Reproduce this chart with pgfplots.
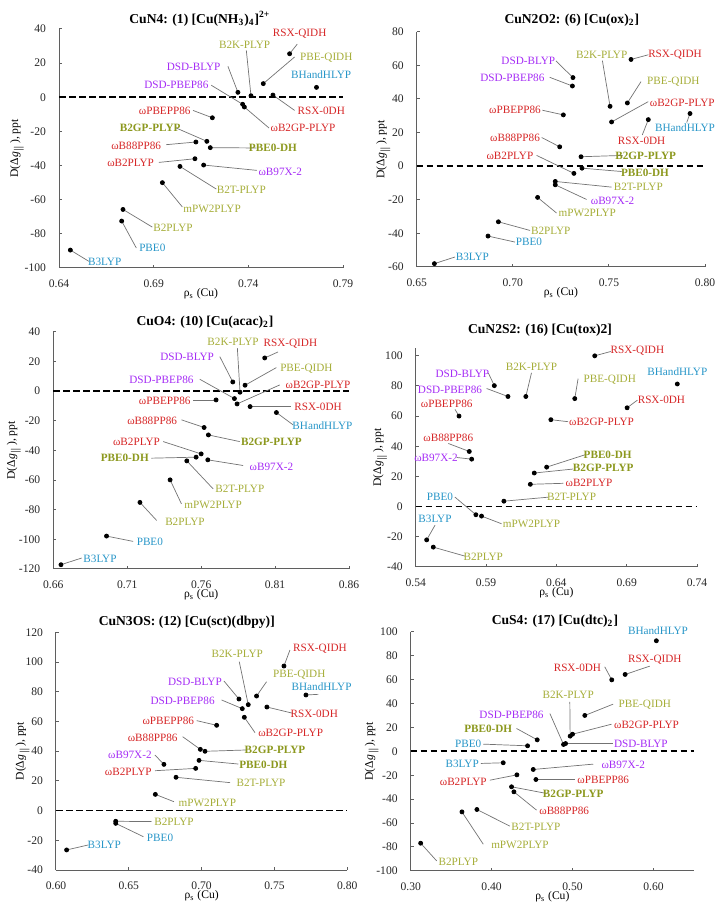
\documentclass[border=0pt]{standalone}
\usepackage{pgfplots}
\pgfplotsset{compat=1.18}
\usepackage{fontspec}
\setmainfont{Liberation Serif}
\definecolor{cred}{RGB}{214,39,40}
\definecolor{colive}{RGB}{166,174,58}
\definecolor{colb}{RGB}{140,152,30}
\definecolor{cpur}{RGB}{165,45,245}
\definecolor{cblue}{RGB}{40,150,200}
\definecolor{axgray}{RGB}{95,95,95}
\newcommand\Rd[1]{\textcolor{cred}{#1}}
\newcommand\Ol[1]{\textcolor{colive}{#1}}
\newcommand\Ob[1]{\textcolor{colb}{\bfseries #1}}
\newcommand\Pu[1]{\textcolor{cpur}{#1}}
\newcommand\Bl[1]{\textcolor{cblue}{#1}}
\tikzset{ld/.style={draw=black!55,line width=0.35pt},
 lab/.style={font=\fontsize{5.6}{6}\selectfont,inner sep=0pt,anchor=center}}
\newcommand\lbl[9]{%
 \draw[ld] (axis cs:#1,#2) -- ++({(#5-#3)/6*1pt},{(#4-#6)/6*1pt});%
 \path (axis cs:#1,#2) ++({(#7-#3)/6*1pt},{(#4-#8)/6*1pt}) node[lab]{#9};}
\newcommand\ttl[3]{\node[anchor=base,font=\fontsize{6.8}{8}\selectfont\bfseries] at ([yshift=#2pt]rel axis cs:#1,1) {#3};}
\newcommand\axlab[1]{%
 \node[font=\fontsize{5.8}{7}\selectfont,rotate=90,anchor=center] at ([xshift=-#1pt]rel axis cs:0,0.5) {D(Δ\textit{g}\textsubscript{$\parallel$}), ppt};%
 \node[font=\fontsize{5.8}{7}\selectfont,anchor=center] at ([yshift=-13pt]rel axis cs:0.5,0) {ρ\textsubscript{s} (Cu)};}
\pgfplotsset{panel/.style={scale only axis, anchor=south west,
 axis x line=bottom, axis y line=left,
 axis line style={-,draw=axgray,line width=0.5pt},
 every tick/.style={draw=axgray,line width=0.5pt},
 tick align=inside, major tick length=1.5pt,
 tick label style={font=\fontsize{5.8}{6}\selectfont,text=black!85},
 yticklabel style={xshift=-3pt}, xticklabel style={yshift=-2.5pt},
 clip=false}}
\newcommand\zero[2]{\addplot[black,line width=0.9pt,dash pattern=on 3.3pt off 1.7pt] coordinates {(#1,0) (#2,0)};}
\begin{document}
\begin{tikzpicture}
\useasboundingbox (0,0) rectangle (357.5pt,452.5pt);
% ---------------- Panel 1
\begin{axis}[panel, at={(29.5pt,318.5pt)}, width=142pt, height=119.5pt,
 xmin=0.64,xmax=0.79,ymin=-100,ymax=40,
 xtick={0.64,0.69,0.74,0.79}, xticklabels={0.64,0.69,0.74,0.79},
 ytick={-100,-80,-60,-40,-20,0,20,40}, yticklabels={-100,-80,-60,-40,-20,0,20,40}]
\zero{0.64}{0.79}
\lbl{0.7618}{25.5}{870}{162}{893}{133}{900}{103}{\Rd{RSX-QIDH}}
\lbl{0.7414}{0.9}{754}{288}{740}{152}{735}{135}{\Ol{B2K-PLYP}}
\lbl{0.7479}{8.0}{791}{252}{885}{172}{980}{175}{\Ol{PBE-QIDH}}
\lbl{0.776}{5.8}{951}{263}{951}{263}{965}{224}{\Bl{BHandHLYP}}
\lbl{0.7345}{2.9}{715}{278}{685}{200}{582}{202}{\Pu{DSD-BLYP}}
\lbl{0.737}{-4.1}{729}{314}{635}{257}{530}{255}{\Pu{DSD-PBEP86}}
\lbl{0.753}{1.3}{820}{286}{885}{332}{965}{333}{\Rd{RSX-0DH}}
\lbl{0.721}{-12.0}{638}{354}{580}{332}{495}{332}{\Rd{ωPBEPP86}}
\lbl{0.7379}{-5.7}{734}{322}{808}{385}{910}{385}{\Rd{ωB2GP-PLYP}}
\lbl{0.7181}{-25.8}{622}{425}{530}{385}{452}{385}{\Ob{B2GP-PLYP}}
\lbl{0.7123}{-26.2}{589}{427}{500}{435}{410}{437}{\Rd{ωB88PP86}}
\lbl{0.7199}{-29.5}{632}{444}{770}{445}{820}{445}{\Ob{PBE0-DH}}
\lbl{0.7118}{-36.0}{586}{477}{478}{488}{393}{490}{\Rd{ωB2PLYP}}
\lbl{0.7164}{-39.7}{612}{496}{772}{512}{842}{517}{\Pu{ωB97X-2}}
\lbl{0.7039}{-40.5}{541}{500}{650}{568}{725}{570}{\Ol{B2T-PLYP}}
\lbl{0.6946}{-50.0}{488}{549}{548}{622}{637}{627}{\Ol{mPW2PLYP}}
\lbl{0.6738}{-65.7}{370}{629}{458}{682}{520}{685}{\Ol{B2PLYP}}
\lbl{0.6731}{-72.5}{366}{664}{410}{745}{458}{745}{\Bl{PBE0}}
\lbl{0.646}{-89.5}{212}{751}{268}{785}{315}{787}{\Bl{B3LYP}}
\addplot[only marks,mark=*,mark size=1pt,black] coordinates {
(0.7618,25.5) (0.7414,0.9) (0.7479,8.0) (0.776,5.8) (0.7345,2.9) (0.737,-4.1)
(0.753,1.3) (0.721,-12.0) (0.7379,-5.7) (0.7181,-25.8) (0.7123,-26.2) (0.7199,-29.5)
(0.7118,-36.0) (0.7164,-39.7) (0.7039,-40.5) (0.6946,-50.0) (0.6738,-65.7) (0.6731,-72.5) (0.646,-89.5)};
\ttl{0.496}{2.75}{CuN4: (1) [Cu(NH\textsubscript{3})\textsubscript{4}]\textsuperscript{2+}}
\axlab{21}
\end{axis}
% ---------------- Panel 2
\begin{axis}[panel, at={(208.35pt,319pt)}, width=144.15pt, height=117.65pt,
 xmin=0.65,xmax=0.80,ymin=-60,ymax=80,
 xtick={0.65,0.70,0.75,0.80}, xticklabels={0.65,0.70,0.75,0.80},
 ytick={-60,-40,-20,0,20,40,60,80}, yticklabels={-60,-40,-20,0,20,40,60,80}]
\zero{0.65}{0.80}
\lbl{0.7615}{63.5}{828}{176}{880}{162}{960}{163}{\Rd{RSX-QIDH}}
\lbl{0.7313}{52.7}{654}{233}{603}{183}{520}{183}{\Pu{DSD-BLYP}}
\lbl{0.731}{47.7}{652}{258}{584}{232}{472}{234}{\Pu{DSD-PBEP86}}
\lbl{0.7506}{35.6}{765}{319}{742}{182}{740}{165}{\Ol{B2K-PLYP}}
\lbl{0.7596}{37.6}{817}{309}{858}{245}{955}{245}{\Ol{PBE-QIDH}}
\lbl{0.7263}{30.5}{625}{345}{562}{331}{480}{331}{\Rd{ωPBEPP86}}
\lbl{0.7514}{26.3}{770}{366}{880}{305}{982}{308}{\Rd{ωB2GP-PLYP}}
\lbl{0.7705}{27.7}{880}{359}{862}{405}{860}{422}{\Rd{RSX-0DH}}
\lbl{0.7922}{31.3}{1005}{341}{995}{368}{990}{383}{\Bl{BHandHLYP}}
\lbl{0.7244}{11.5}{614}{441}{560}{413}{480}{413}{\Rd{ωB88PP86}}
\lbl{0.7355}{5.6}{678}{471}{803}{467}{872}{467}{\Ob{B2GP-PLYP}}
\lbl{0.7318}{-4.3}{657}{521}{545}{467}{465}{467}{\Rd{ωB2PLYP}}
\lbl{0.736}{-1.2}{681}{505}{800}{515}{870}{518}{\Ob{PBE0-DH}}
\lbl{0.7221}{-9.1}{601}{545}{770}{562}{850}{560}{\Ol{B2T-PLYP}}
\lbl{0.7221}{-11.1}{601}{556}{695}{600}{773}{603}{\Pu{ωB97X-2}}
\lbl{0.7129}{-18.6}{548}{593}{605}{640}{697}{640}{\Ol{mPW2PLYP}}
\lbl{0.6925}{-33.1}{430}{666}{525}{692}{587}{692}{\Ol{B2PLYP}}
\lbl{0.6871}{-41.6}{399}{709}{480}{727}{522}{727}{\Bl{PBE0}}
\lbl{0.6592}{-58.0}{238}{792}{300}{772}{352}{773}{\Bl{B3LYP}}
\addplot[only marks,mark=*,mark size=1pt,black] coordinates {
(0.7615,63.5) (0.7313,52.7) (0.731,47.7) (0.7506,35.6) (0.7596,37.6) (0.7263,30.5)
(0.7514,26.3) (0.7705,27.7) (0.7922,31.3) (0.7244,11.5) (0.7355,5.6) (0.7318,-4.3)
(0.736,-1.2) (0.7221,-9.1) (0.7221,-11.1) (0.7129,-18.6) (0.6925,-33.1) (0.6871,-41.6) (0.6592,-58.0)};
\ttl{0.538}{4}{CuN2O2: (6) [Cu(ox)\textsubscript{2}]}
\axlab{16.7}
\end{axis}
% ---------------- Panel 3
\begin{axis}[panel, at={(26.65pt,168pt)}, width=147.85pt, height=118.65pt,
 xmin=0.66,xmax=0.86,ymin=-120,ymax=40,
 xtick={0.66,0.71,0.76,0.81,0.86}, xticklabels={0.66,0.71,0.76,0.81,0.86},
 ytick={-120,-100,-80,-60,-40,-20,0,20,40}, yticklabels={-120,-100,-80,-60,-40,-20,0,20,40}]
\zero{0.66}{0.86}
\lbl{0.803}{22.3}{795}{174}{835}{156}{872}{130}{\Rd{RSX-QIDH}}
\lbl{0.7863}{-0.8}{721}{277}{713}{145}{700}{125}{\Ol{B2K-PLYP}}
\lbl{0.7814}{6.1}{699}{246}{660}{170}{562}{170}{\Pu{DSD-BLYP}}
\lbl{0.7897}{3.9}{736}{256}{830}{203}{920}{205}{\Ol{PBE-QIDH}}
\lbl{0.7825}{-5.1}{704}{296}{600}{238}{485}{240}{\Pu{DSD-PBEP86}}
\lbl{0.7843}{-8.7}{712}{312}{840}{255}{955}{255}{\Rd{ωB2GP-PLYP}}
\lbl{0.7701}{-6.0}{649}{300}{580}{300}{495}{302}{\Rd{ωPBEPP86}}
\lbl{0.7931}{-10.5}{751}{320}{875}{320}{955}{322}{\Rd{RSX-0DH}}
\lbl{0.8109}{-14.5}{830}{338}{880}{375}{968}{377}{\Bl{BHandHLYP}}
\lbl{0.762}{-24.6}{613}{383}{545}{360}{457}{362}{\Rd{ωB88PP86}}
\lbl{0.7649}{-29.6}{626}{405}{720}{425}{815}{425}{\Ob{B2GP-PLYP}}
\lbl{0.760}{-42.4}{604}{462}{490}{425}{410}{427}{\Rd{ωB2PLYP}}
\lbl{0.7566}{-44.6}{589}{472}{455}{475}{375}{475}{\Ob{PBE0-DH}}
\lbl{0.7645}{-46.4}{624}{480}{730}{497}{815}{500}{\Pu{ωB97X-2}}
\lbl{0.7503}{-47.1}{561}{483}{640}{567}{720}{567}{\Ol{B2T-PLYP}}
\lbl{0.739}{-59.9}{511}{540}{545}{612}{640}{615}{\Ol{mPW2PLYP}}
\lbl{0.7186}{-75.1}{420}{608}{470}{662}{555}{665}{\Ol{B2PLYP}}
\lbl{0.696}{-97.8}{320}{709}{400}{725}{450}{725}{\Bl{PBE0}}
\lbl{0.6652}{-117.1}{183}{795}{245}{775}{300}{778}{\Bl{B3LYP}}
\addplot[only marks,mark=*,mark size=1pt,black] coordinates {
(0.803,22.3) (0.7863,-0.8) (0.7814,6.1) (0.7897,3.9) (0.7825,-5.1) (0.7843,-8.7)
(0.7701,-6.0) (0.7931,-10.5) (0.8109,-14.5) (0.762,-24.6) (0.7649,-29.6) (0.760,-42.4)
(0.7566,-44.6) (0.7645,-46.4) (0.7503,-47.1) (0.739,-59.9) (0.7186,-75.1) (0.696,-97.8) (0.6652,-117.1)};
\ttl{0.513}{3.3}{CuO4: (10) [Cu(acac)\textsubscript{2}]}
\axlab{19.7}
\end{axis}
% ---------------- Panel 4
\begin{axis}[panel, at={(207.85pt,169.15pt)}, width=140.65pt, height=109.2pt,
 xmin=0.54,xmax=0.74,ymin=-40,ymax=105,
 xtick={0.54,0.59,0.64,0.69,0.74}, xticklabels={0.54,0.59,0.64,0.69,0.74},
 ytick={-40,-20,0,20,40,60,80,100}, yticklabels={-40,-20,0,20,40,60,80,100}]
\zero{0.54}{0.74}
\lbl{0.6673}{100}{720}{163}{768}{150}{848}{149}{\Rd{RSX-QIDH}}
\lbl{0.6183}{73.0}{513}{286}{530}{215}{530}{197}{\Ol{B2K-PLYP}}
\lbl{0.726}{81.3}{968}{248}{968}{248}{968}{210}{\Bl{BHandHLYP}}
\lbl{0.5959}{80.2}{418}{253}{400}{215}{322}{218}{\Pu{DSD-BLYP}}
\lbl{0.6531}{71.6}{660}{292}{670}{232}{765}{235}{\Ol{PBE-QIDH}}
\lbl{0.6056}{73.0}{459}{286}{395}{262}{285}{265}{\Pu{DSD-PBEP86}}
\lbl{0.6903}{65.5}{817}{320}{848}{297}{920}{297}{\Rd{RSX-0DH}}
\lbl{0.5708}{60.0}{312}{345}{300}{325}{275}{308}{\Rd{ωPBEPP86}}
\lbl{0.6361}{57.6}{588}{356}{640}{362}{740}{363}{\Rd{ωB2GP-PLYP}}
\lbl{0.5781}{36.5}{343}{452}{280}{428}{280}{410}{\Rd{ωB88PP86}}
\lbl{0.5798}{31.4}{350}{475}{305}{470}{243}{472}{\Pu{ωB97X-2}}
\lbl{0.6331}{26.1}{575}{499}{690}{462}{758}{463}{\Ob{PBE0-DH}}
\lbl{0.6243}{22.2}{538}{517}{655}{505}{745}{503}{\Ob{B2GP-PLYP}}
\lbl{0.6215}{14.7}{526}{551}{625}{548}{702}{548}{\Rd{ωB2PLYP}}
\lbl{0.6027}{3.5}{447}{602}{580}{590}{650}{590}{\Ol{B2T-PLYP}}
\lbl{0.5828}{-5.5}{363}{643}{300}{590}{255}{590}{\Bl{PBE0}}
\lbl{0.5868}{-6.4}{380}{647}{440}{670}{530}{670}{\Ol{mPW2PLYP}}
\lbl{0.5478}{-22.2}{215}{719}{240}{675}{240}{655}{\Bl{B3LYP}}
\lbl{0.5525}{-27.0}{235}{741}{330}{768}{385}{770}{\Ol{B2PLYP}}
\addplot[only marks,mark=*,mark size=1pt,black] coordinates {
(0.6673,100) (0.6183,73.0) (0.726,81.3) (0.5959,80.2) (0.6531,71.6) (0.6056,73.0)
(0.6903,65.5) (0.5708,60.0) (0.6361,57.6) (0.5781,36.5) (0.5798,31.4) (0.6331,26.1)
(0.6243,22.2) (0.6215,14.7) (0.6027,3.5) (0.5828,-5.5) (0.5868,-6.4) (0.5478,-22.2) (0.5525,-27.0)};
\ttl{0.442}{7.5}{CuN2S2: (16) [Cu(tox)2]}
\axlab{17.8}
\end{axis}
% ---------------- Panel 5
\begin{axis}[panel, at={(28pt,17.5pt)}, width=145.65pt, height=118.85pt,
 xmin=0.60,xmax=0.80,ymin=-40,ymax=120,
 xtick={0.60,0.65,0.70,0.75,0.80}, xticklabels={0.60,0.65,0.70,0.75,0.80},
 ytick={-40,-20,0,20,40,60,80,100,120}, yticklabels={-40,-20,0,20,40,60,80,100,120}]
\zero{0.60}{0.80}
\lbl{0.7565}{97.3}{852}{198}{870}{150}{960}{145}{\Rd{RSX-QIDH}}
\lbl{0.732}{71.3}{745}{314}{718}{185}{712}{162}{\Ol{B2K-PLYP}}
\lbl{0.7377}{77.1}{770}{288}{800}{245}{898}{223}{\Ol{PBE-QIDH}}
\lbl{0.7716}{77.8}{918}{285}{955}{283}{965}{260}{\Bl{BHandHLYP}}
\lbl{0.7256}{75.1}{717}{297}{672}{243}{585}{246}{\Pu{DSD-BLYP}}
\lbl{0.7279}{68.6}{727}{326}{665}{300}{548}{302}{\Pu{DSD-PBEP86}}
\lbl{0.7448}{69.7}{801}{321}{880}{340}{943}{340}{\Rd{RSX-0DH}}
\lbl{0.7293}{62.8}{733}{352}{765}{398}{872}{400}{\Rd{ωB2GP-PLYP}}
\lbl{0.7103}{57.4}{650}{376}{590}{362}{505}{362}{\Rd{ωPBEPP86}}
\lbl{0.6991}{41.2}{601}{448}{548}{410}{458}{412}{\Rd{ωB88PP86}}
\lbl{0.7023}{39.9}{615}{454}{740}{450}{825}{450}{\Ob{B2GP-PLYP}}
\lbl{0.6741}{31.1}{492}{493}{465}{465}{390}{465}{\Pu{ωB97X-2}}
\lbl{0.6982}{33.8}{597}{481}{715}{492}{790}{495}{\Ob{PBE0-DH}}
\lbl{0.6959}{28.4}{587}{505}{465}{512}{385}{515}{\Rd{ωB2PLYP}}
\lbl{0.6824}{22.4}{528}{532}{690}{548}{783}{548}{\Ol{B2T-PLYP}}
\lbl{0.6682}{10.9}{466}{583}{522}{605}{622}{608}{\Ol{mPW2PLYP}}
\lbl{0.641}{-7.2}{347}{664}{455}{665}{522}{665}{\Ol{B2PLYP}}
\lbl{0.641}{-8.6}{347}{670}{430}{710}{480}{712}{\Bl{PBE0}}
\lbl{0.6073}{-26.5}{200}{750}{265}{735}{313}{735}{\Bl{B3LYP}}
\addplot[only marks,mark=*,mark size=1pt,black] coordinates {
(0.7565,97.3) (0.732,71.3) (0.7377,77.1) (0.7716,77.8) (0.7256,75.1) (0.7279,68.6)
(0.7448,69.7) (0.7293,62.8) (0.7103,57.4) (0.6991,41.2) (0.7023,39.9) (0.6741,31.1)
(0.6982,33.8) (0.6959,28.4) (0.6824,22.4) (0.6682,10.9) (0.641,-7.2) (0.641,-8.6) (0.6073,-26.5)};
\ttl{0.449}{3.5}{CuN3OS: (12) [Cu(sct)(dbpy)]}
\axlab{16.7}
\end{axis}
% ---------------- Panel 6
\begin{axis}[panel, at={(205.35pt,17.1pt)}, width=141.65pt, height=119.5pt,
 xmin=0.30,xmax=0.65,ymin=-100,ymax=100,
 xtick={0.30,0.40,0.50,0.60}, xticklabels={0.30,0.40,0.50,0.60},
 ytick={-100,-80,-60,-40,-20,0,20,40,60,80,100}, yticklabels={-100,-80,-60,-40,-20,0,20,40,60,80,100}]
\zero{0.30}{0.65}
\lbl{0.6035}{92.5}{905}{122}{905}{122}{910}{92}{\Bl{BHandHLYP}}
\lbl{0.5649}{64.3}{811}{223}{885}{198}{900}{178}{\Rd{RSX-QIDH}}
\lbl{0.5484}{59.8}{771}{239}{750}{200}{668}{202}{\Rd{RSX-0DH}}
\lbl{0.497}{12.7}{646}{408}{645}{305}{640}{283}{\Ol{B2K-PLYP}}
\lbl{0.5151}{30.0}{690}{346}{775}{312}{870}{313}{\Ol{PBE-QIDH}}
\lbl{0.4888}{5.7}{626}{433}{585}{340}{470}{343}{\Pu{DSD-PBEP86}}
\lbl{0.4999}{14.3}{653}{402}{770}{372}{875}{373}{\Rd{ωB2GP-PLYP}}
\lbl{0.4563}{9.6}{547}{419}{485}{385}{400}{385}{\Ob{PBE0-DH}}
\lbl{0.4444}{4.6}{518}{437}{385}{432}{340}{432}{\Bl{PBE0}}
\lbl{0.4913}{6.5}{632}{430}{775}{430}{858}{430}{\Pu{DSD-BLYP}}
\lbl{0.4143}{-9.6}{445}{488}{378}{490}{322}{490}{\Bl{B3LYP}}
\lbl{0.4514}{-15.2}{535}{508}{715}{492}{805}{495}{\Pu{ωB97X-2}}
\lbl{0.4312}{-19.7}{486}{524}{405}{540}{325}{545}{\Rd{ωB2PLYP}}
\lbl{0.4547}{-23.6}{543}{538}{660}{538}{745}{538}{\Rd{ωPBEPP86}}
\lbl{0.4246}{-29.7}{470}{560}{575}{580}{655}{582}{\Ob{B2GP-PLYP}}
\lbl{0.4275}{-33.9}{477}{575}{545}{630}{628}{632}{\Rd{ωB88PP86}}
\lbl{0.3818}{-48.7}{366}{628}{465}{678}{543}{680}{\Ol{B2T-PLYP}}
\lbl{0.3633}{-50.7}{321}{635}{385}{732}{495}{735}{\Ol{mPW2PLYP}}
\lbl{0.3123}{-76.9}{197}{729}{245}{782}{310}{785}{\Ol{B2PLYP}}
\addplot[only marks,mark=*,mark size=1pt,black] coordinates {
(0.6035,92.5) (0.5649,64.3) (0.5484,59.8) (0.497,12.7) (0.5151,30.0) (0.4888,5.7)
(0.4999,14.3) (0.4563,9.6) (0.4444,4.6) (0.4913,6.5) (0.4143,-9.6) (0.4514,-15.2)
(0.4312,-19.7) (0.4547,-23.6) (0.4246,-29.7) (0.4275,-33.9) (0.3818,-48.7) (0.3633,-50.7) (0.3123,-76.9)};
\ttl{0.509}{3.8}{CuS4: (17) [Cu(dtc)\textsubscript{2}]}
\axlab{19.5}
\end{axis}
\end{tikzpicture}
\end{document}
